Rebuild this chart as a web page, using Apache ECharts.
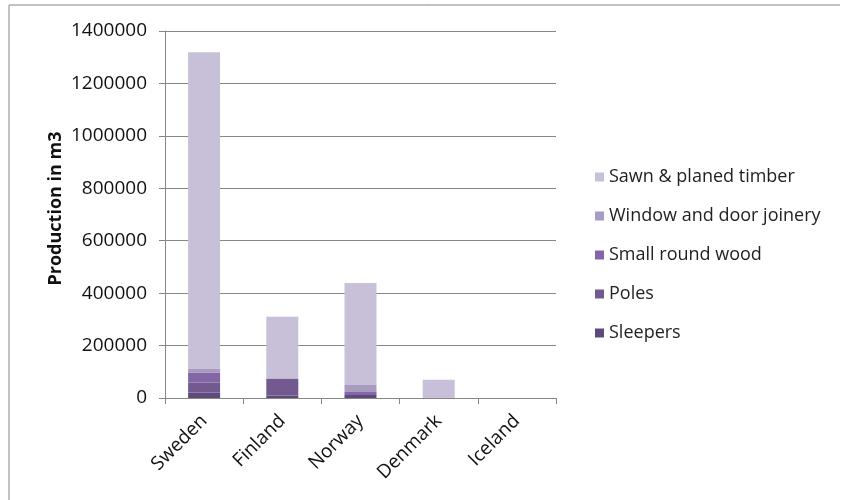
<!DOCTYPE html>
<html><head><meta charset="utf-8">
<script src="https://cdn.jsdelivr.net/npm/echarts@6/dist/echarts.min.js"></script>
<style>html,body{margin:0;padding:0;background:#fff}#c{width:850px;height:500px}</style>
</head><body><div id="c"></div>
<script>
const categories = ["Sweden", "Finland", "Norway", "Denmark", "Iceland"];
const sleepers = [21000, 10000, 11000, 0, 0];
const poles = [38000, 64000, 0, 0, 0];
const smallRoundWood = [38000, 0, 12000, 0, 0];
const windowDoorJoinery = [14000, 0, 27000, 0, 0];
const sawnPlanedTimber = [1208000, 236000, 389000, 70000, 0];
const yTicks = [0, 200000, 400000, 600000, 800000, 1000000, 1200000, 1400000];

const FONT = "Open Sans";
const seriesDefs = [
  ["Sleepers", sleepers, "#5e4a7a"],
  ["Poles", poles, "#725a90"],
  ["Small round wood", smallRoundWood, "#8366a5"],
  ["Window and door joinery", windowDoorJoinery, "#a89bc0"],
  ["Sawn & planed timber", sawnPlanedTimber, "#c8c0d8"]
];
const chart = echarts.init(document.getElementById('c'), null, {renderer: 'canvas'});
chart.setOption({
  animation: false,
  graphic: [{type: 'polyline', shape: {points: [[9, 600], [9, 5], [840, 5]]}, style: {fill: 'none', stroke: '#868686', lineWidth: 1}, z: 0}],
  grid: {left: 165, right: 294, top: 31, bottom: 102},
  legend: {
    orient: 'vertical', left: 590, top: 161, itemWidth: 9, itemHeight: 9, itemGap: 17,
    icon: 'rect',
    data: seriesDefs.map(s => s[0]).reverse(),
    textStyle: {fontFamily: FONT, fontSize: 18, color: '#222', lineHeight: 22, padding: [0, 0, 0, 0]}
  },
  xAxis: {
    type: 'category', data: categories,
    axisLine: {lineStyle: {color: '#868686', width: 1}},
    axisTick: {show: true, length: 6, lineStyle: {color: '#868686'}},
    axisLabel: {rotate: 45, fontFamily: FONT, fontSize: 19, color: '#111', margin: 20}
  },
  yAxis: {
    type: 'value', min: yTicks[0], max: yTicks[yTicks.length - 1], interval: 200000,
    name: 'Production in m3', nameLocation: 'middle', nameGap: 100,
    nameTextStyle: {fontFamily: FONT, fontSize: 18, fontWeight: 'bold', color: '#111', padding: [0, 0, 0, 12]},
    axisLine: {show: true, lineStyle: {color: '#868686', width: 1}},
    axisTick: {show: true, length: 6, lineStyle: {color: '#868686'}},
    splitLine: {lineStyle: {color: '#868686', width: 1}},
    axisLabel: {fontFamily: FONT, fontSize: 19, color: '#111', margin: 18, formatter: v => String(v)}
  },
  series: seriesDefs.map(([name, data, color]) => ({
    name, type: 'bar', stack: 'total', data, barWidth: 32,
    itemStyle: {color}
  }))
});
</script></body></html>
